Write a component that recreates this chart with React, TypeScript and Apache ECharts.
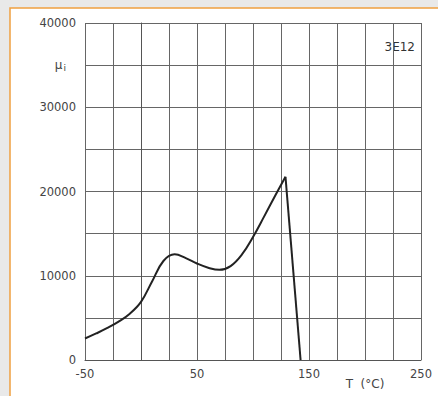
import React, { useEffect, useRef } from "react";
import * as echarts from "echarts";

const temps = [-50, -40, -30, -20, -10, 0, 10, 20, 30, 40, 50, 60, 70, 80, 90, 100, 110, 120, 129];
const mu = [2550, 3150, 3800, 4550, 5500, 6900, 9350, 11750, 12550, 12100, 11450, 10950, 10700, 11150, 12500, 14600, 17050, 19550, 21750];
const dropTemps = [129, 142.5];
const dropMu = [21750, 0];
const xLabels = [-50, 50, 150, 250];
const yLabels = [0, 10000, 20000, 30000, 40000];
const materialName = "3E12";

export default function App() {
  const ref = useRef<HTMLDivElement>(null);
  useEffect(() => {
    if (!ref.current) return;
    const chart = echarts.init(ref.current, null, { renderer: "svg" });
    const font = "'DejaVu Sans', 'Liberation Sans', Arial, sans-serif";
    chart.setOption({
      animation: false,
      backgroundColor: "#e9e9e9",
      graphic: [
        {
          type: "rect",
          shape: { x: 10, y: 8, width: 440, height: 400 },
          style: { fill: "#ffffff", stroke: "#f0a040", lineWidth: 1.5 },
          z: -10,
          silent: true,
        },
        {
          type: "text",
          x: 415,
          y: 47,
          style: {
            text: materialName,
            fill: "#333",
            font: `12px ${font}`,
            align: "right",
            verticalAlign: "middle",
          },
        },
      ],
      grid: { left: 85, right: 17, top: 23, bottom: 36, show: false },
      xAxis: {
        type: "value",
        min: -50,
        max: 250,
        interval: 25,
        axisLine: { show: true, lineStyle: { color: "#555", width: 1 } },
        axisTick: { show: false },
        splitLine: { show: true, lineStyle: { color: "#666", width: 1 } },
        axisLabel: {
          color: "#444",
          fontFamily: font,
          fontSize: 11.5,
          margin: 8,
          formatter: (v: number) =>
            xLabels.includes(v) ? String(v) : v === 200 ? "{t|T  (°C)}" : "",
          rich: {
            t: { fontFamily: font, fontSize: 12, color: "#444", padding: [10, 0, 0, 0] },
          },
        },
      },
      yAxis: {
        type: "value",
        min: 0,
        max: 40000,
        interval: 5000,
        axisLine: { show: true, lineStyle: { color: "#555", width: 1 } },
        axisTick: { show: false },
        splitLine: { show: true, lineStyle: { color: "#666", width: 1 } },
        axisLabel: {
          color: "#444",
          fontFamily: font,
          fontSize: 11.5,
          margin: 9,
          formatter: (v: number) =>
            yLabels.includes(v) ? String(v) : v === 35000 ? "{m|μ}{s|i}" : "",
          rich: {
            m: { fontFamily: font, fontSize: 12, color: "#444" },
            s: { fontFamily: font, fontSize: 9, color: "#444", padding: [6, 10, 0, 1] },
          },
        },
      },
      series: [
        {
          type: "line",
          data: temps.map((t, i) => [t, mu[i]]),
          smooth: 0.4,
          showSymbol: false,
          lineStyle: { color: "#222", width: 2 },
        },
        {
          type: "line",
          data: dropTemps.map((t, i) => [t, dropMu[i]]),
          showSymbol: false,
          lineStyle: { color: "#222", width: 2 },
        },
      ],
    });
    return () => chart.dispose();
  }, []);
  return (
    <div
      ref={ref}
      style={{ position: "absolute", left: 0, top: 0, width: 438, height: 396 }}
    />
  );
}
